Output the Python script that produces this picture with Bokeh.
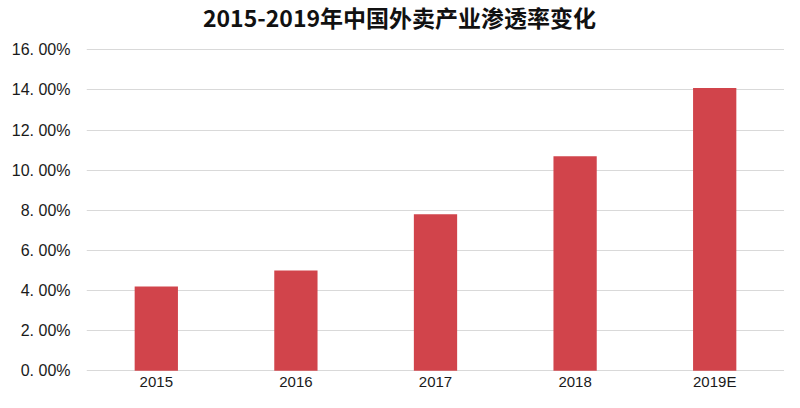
from bokeh.plotting import figure
from bokeh.models import FixedTicker, Label
from bokeh.embed import file_html
from bokeh.resources import INLINE

years = ["2015", "2016", "2017", "2018", "2019E"]
rates = [4.2, 5.0, 7.8, 10.7, 14.1]
y_ticks = [0, 2, 4, 6, 8, 10, 12, 14, 16]
y_tick_labels = ["0. 00%", "2. 00%", "4. 00%", "6. 00%", "8. 00%",
                 "10. 00%", "12. 00%", "14. 00%", "16. 00%"]
title_text = "2015-2019年中国外卖产业渗透率变化"

TITLE_FONT = "Noto Sans CJK SC"
LABEL_FONT = "Liberation Sans"

# the frame spans the whole canvas height; title and category labels sit
# in the empty space above 16% and below 0%
p = figure(x_range=years, y_range=(-1.08, 18.46), width=784, height=392,
           output_backend="svg", toolbar_location=None,
           min_border_left=86, min_border_right=0,
           min_border_top=0, min_border_bottom=0)

p.vbar(x=years, top=rates, width=0.31, fill_color="#D1444B",
       line_color=None)

p.outline_line_color = None
p.background_fill_color = "white"
p.border_fill_color = "white"

p.xgrid.grid_line_color = None
p.ygrid.grid_line_color = "#d9d9d9"
p.ygrid.grid_line_width = 1
p.ygrid.ticker = FixedTicker(ticks=y_ticks)

p.yaxis.ticker = FixedTicker(ticks=y_ticks)
p.yaxis.major_label_overrides = {t: l for t, l in zip(y_ticks, y_tick_labels)}
p.yaxis.axis_line_color = None
p.yaxis.major_tick_line_color = None
p.yaxis.minor_tick_line_color = None
p.yaxis.major_label_text_font = LABEL_FONT
p.yaxis.major_label_text_font_size = "16px"
p.yaxis.major_label_text_color = "#1a1a1a"
p.yaxis.major_label_standoff = 10

p.xaxis.visible = False

# category labels, at the categorical centres (synthetic coordinates)
for i, yr in enumerate(years):
    p.add_layout(Label(x=i + 0.5, y=y_ticks[0], y_offset=-11, text=yr,
                       text_align="center", text_baseline="middle",
                       text_font=LABEL_FONT, text_font_size="15px",
                       text_color="#1a1a1a"))

# chart title, centred on the page
p.add_layout(Label(x=len(years) / 2, y=y_ticks[-1], x_offset=-36, y_offset=33,
                   text=title_text, text_align="center", text_baseline="middle",
                   text_font=TITLE_FONT, text_font_size="23px",
                   text_font_style="bold", text_color="#111111"))

open("out.html", "w").write(file_html(p, INLINE))
